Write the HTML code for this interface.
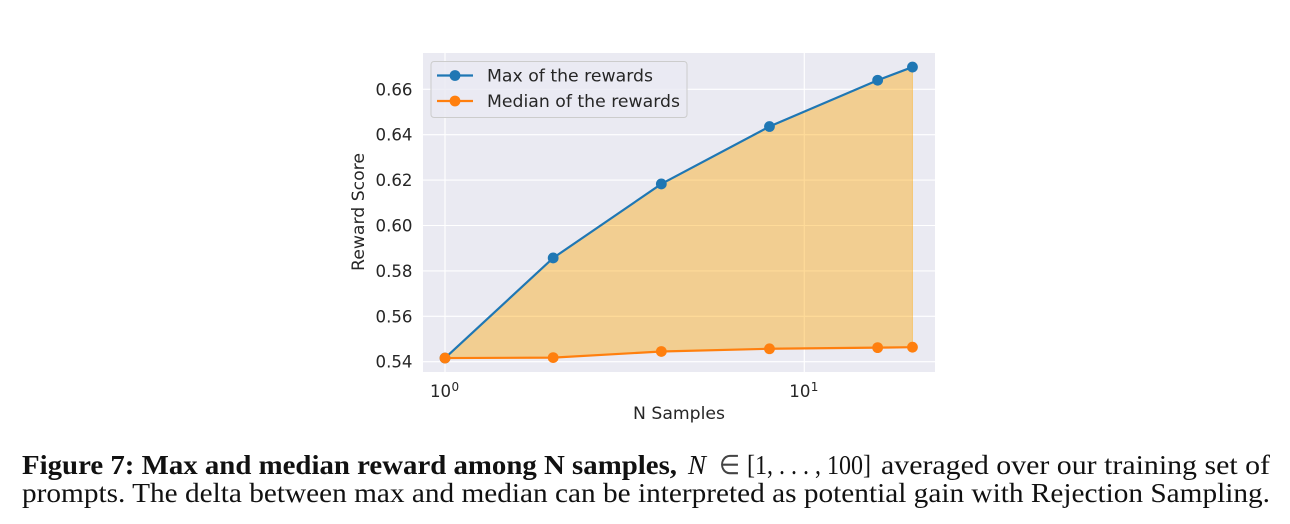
<!DOCTYPE html>
<html lang="en">
<head>
<meta charset="utf-8">
<title>Max and median reward among N samples</title>
<style>
html,body{margin:0;padding:0;background:#fff;width:1290px;height:524px;overflow:hidden}
svg{display:block}
.tick{font-family:"DejaVu Sans",sans-serif;font-size:16.6px;fill:#262626}
.lbl{font-family:"DejaVu Sans",sans-serif;font-size:17px;fill:#262626}
.leg{font-family:"DejaVu Sans",sans-serif;font-size:17px;fill:#262626}
.cap{font-family:"Liberation Serif",serif;font-size:27px;fill:#111}
</style>
</head>
<body>
<svg id="chart" width="1290" height="524" viewBox="0 0 1290 524" xmlns="http://www.w3.org/2000/svg">
  <rect x="423" y="53" width="512" height="319" fill="#eaeaf2"/>
  <g id="grid"></g>
  <g id="marks"></g>
  <g id="ticks"></g>
  <text class="lbl" x="679" y="419" text-anchor="middle" textLength="92" lengthAdjust="spacingAndGlyphs">N Samples</text>
  <text class="lbl" transform="translate(364,212) rotate(-90)" text-anchor="middle" textLength="118" lengthAdjust="spacingAndGlyphs">Reward Score</text>
  <g>
    <rect x="431" y="61.500" width="256" height="56" rx="3" fill="#eaeaf2" fill-opacity="0.8" stroke="#cccccc" stroke-width="1"/>
    <g>
      <line x1="437" x2="473" y1="75.500" y2="75.500" stroke="#1f77b4" stroke-width="2.200"/>
      <circle cx="455" cy="75.500" r="5.400" fill="#1f77b4"/>
      <text class="leg" x="487" y="81.500" textLength="166" lengthAdjust="spacingAndGlyphs">Max of the rewards</text>
    </g>
    <g>
      <line x1="437" x2="473" y1="101" y2="101" stroke="#ff7f0e" stroke-width="2.200"/>
      <circle cx="455" cy="101" r="5.400" fill="#ff7f0e"/>
      <text class="leg" x="487" y="107" textLength="193" lengthAdjust="spacingAndGlyphs">Median of the rewards</text>
    </g>
  </g>
  <g>
    <text class="cap" x="22" y="474" font-weight="bold" textLength="655" lengthAdjust="spacingAndGlyphs">Figure 7: Max and median reward among N samples,</text>
    <text class="cap" x="688" y="474" font-style="italic" textLength="18" lengthAdjust="spacingAndGlyphs">N</text>
    <text class="cap" x="719" y="474" textLength="21" lengthAdjust="spacingAndGlyphs" style="font-family:'DejaVu Sans',sans-serif;font-size:27px;font-weight:200;fill:#444">∈</text>
    <text class="cap" x="747" y="474" textLength="124" lengthAdjust="spacingAndGlyphs">[1, . . . , 100]</text>
    <text class="cap" x="881" y="474" textLength="389" lengthAdjust="spacingAndGlyphs">averaged over our training set of</text>
    <text class="cap" x="22" y="502" textLength="1248" lengthAdjust="spacingAndGlyphs">prompts. The delta between max and median can be interpreted as potential gain with Rejection Sampling.</text>
  </g>
</svg>
<script>
const samples = [1, 2, 4, 8, 16, 20];
const maxRewards = [0.5416, 0.5857, 0.6183, 0.6436, 0.6640, 0.6698];
const medianRewards = [0.5416, 0.5418, 0.5445, 0.5457, 0.5462, 0.5464];
const yTickValues = [0.54, 0.56, 0.58, 0.60, 0.62, 0.64, 0.66];
const xTickExponents = [0, 1];

const NS = 'http://www.w3.org/2000/svg';
function xScale(v) { return 445 + 359.3 * Math.log10(v); }
function yScale(v) { return 361.7 - (v - 0.54) * 2270; }
function make(parent, tag, attrs) {
  const el = document.createElementNS(NS, tag);
  Object.keys(attrs).forEach(function (k) { el.setAttribute(k, attrs[k]); });
  parent.appendChild(el);
  return el;
}
const grid = document.getElementById('grid');
const marks = document.getElementById('marks');
const ticks = document.getElementById('ticks');

yTickValues.forEach(function (v) {
  const y = yScale(v);
  const line = make(grid, 'line', {x1: 423, x2: 935, y1: y, y2: y, stroke: '#fff', 'stroke-width': 1.1});
  
  
  const t = make(ticks, 'text', {class: 'tick', x: 412.5, y: y + 6, 'text-anchor': 'end', textLength: 37, lengthAdjust: 'spacingAndGlyphs'});
  t.textContent = v.toFixed(2);
  
  
});

xTickExponents.forEach(function (e) {
  const x = xScale(Math.pow(10, e));
  const line = make(grid, 'line', {x1: x, x2: x, y1: 53, y2: 372, stroke: '#fff', 'stroke-width': 1.1});
  
  
  const t = make(ticks, 'text', {class: 'tick', x: x - 15, y: 397});
  t.textContent = '10';
  
  
  const s = make(ticks, 'text', {class: 'tick', x: x + 6.5, y: 391, style: 'font-size:12px'});
  s.textContent = String(e);
  
  
});

const upper = samples.map(function (s, i) { return xScale(s) + ',' + yScale(maxRewards[i]); });
const lower = samples.map(function (s, i) { return xScale(s) + ',' + yScale(medianRewards[i]); }).reverse();
const band = make(marks, 'polygon', {points: upper.concat(lower).join(' '), fill: 'orange', 'fill-opacity': 0.4, stroke: 'orange', 'stroke-opacity': 0.4, 'stroke-width': 1});



function drawSeries(values, color, name) {
  const pts = samples.map(function (s, i) { return xScale(s) + ',' + yScale(values[i]); }).join(' ');
  const line = make(marks, 'polyline', {points: pts, fill: 'none', stroke: color, 'stroke-width': 2.2});
  
  
  samples.forEach(function (s, i) {
    const c = make(marks, 'circle', {cx: xScale(s), cy: yScale(values[i]), r: 5.4, fill: color});
    
    
  });
}
drawSeries(maxRewards, '#1f77b4', 'max-reward');
drawSeries(medianRewards, '#ff7f0e', 'median-reward');
</script>
</body>
</html>
